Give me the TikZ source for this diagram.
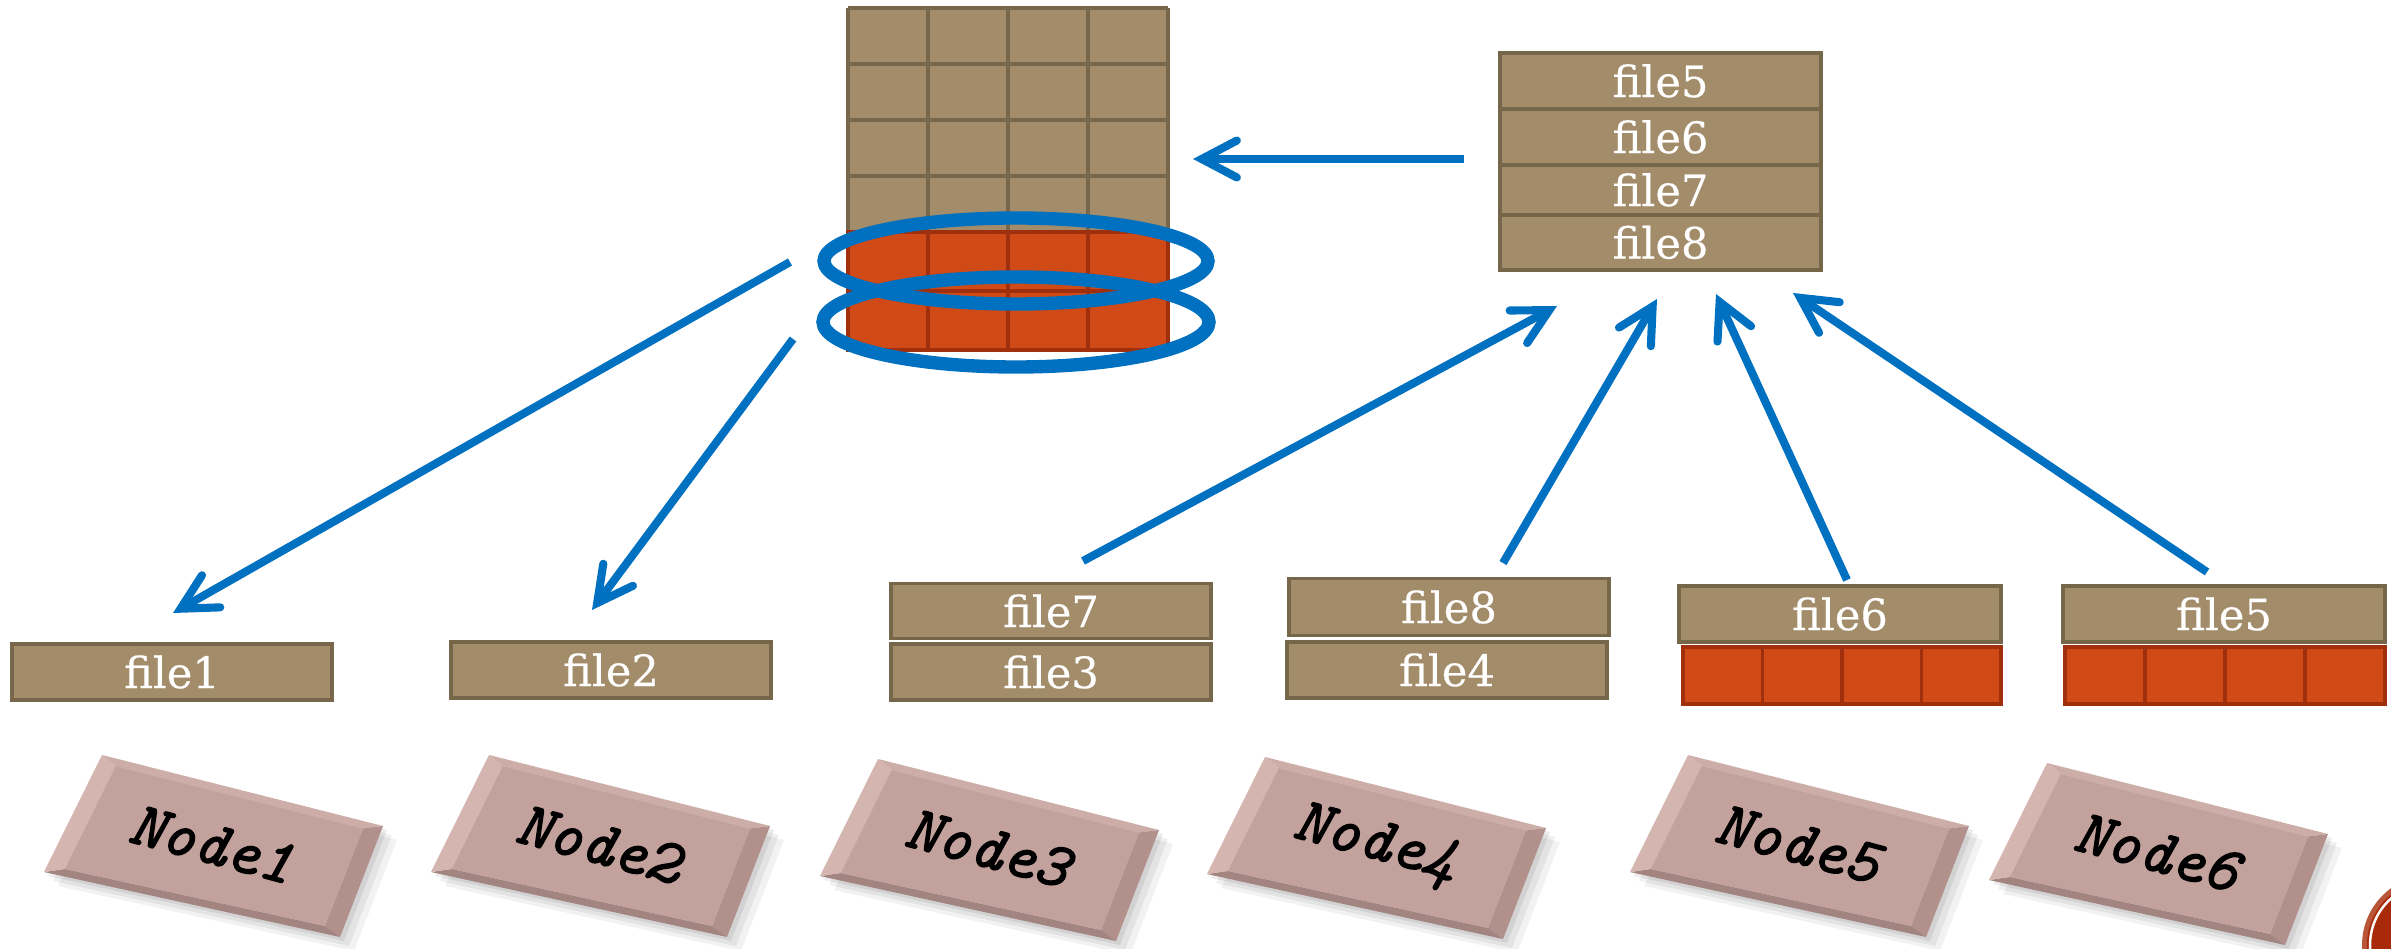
\documentclass[tikz,border=0pt]{standalone}
\usepackage{fontspec}
\setmainfont{DejaVu Serif}[FakeBold=0.35]
\newfontfamily\tilefont{Latin Modern Mono}[FakeBold=2, ItalicFeatures={FakeBold=2}]
\usetikzlibrary{arrows.meta}
\definecolor{fileFill}{HTML}{A38C6A}
\definecolor{fileBorder}{HTML}{76674A}
\definecolor{redFill}{HTML}{D04A17}
\definecolor{redBorder}{HTML}{A0300D}
\definecolor{flowBlue}{HTML}{0070C0}
\definecolor{tileFace}{HTML}{C3A29D}
\definecolor{tileTop}{HTML}{CDADA8}
\definecolor{tileLeft}{HTML}{D5B5B0}
\definecolor{tileRight}{HTML}{B2908C}
\definecolor{tileBottom}{HTML}{A28480}
\definecolor{cornerRed}{HTML}{A82A08}
\tikzset{
  filebox/.style={draw=fileBorder, fill=fileFill, line width=1.1pt, minimum width=3.2cm,
    minimum height=0.56cm, inner sep=0pt, text=white, font=\fontsize{12.3}{13}\selectfont},
  redcell/.style={draw=redBorder, fill=redFill, line width=1.1pt},
  gridline/.style={draw=fileBorder, line width=1.2pt},
  flow/.style={draw=flowBlue, line width=2.3pt,
    -{Straight Barb[length=10pt,width=10.5pt,line cap=round,line join=miter]}},
  ring/.style={draw=flowBlue, line width=3.8pt},
  tilelabel/.style={rotate=-15, inner sep=0pt, text=black,
    font=\tilefont\itshape\fontsize{18}{20}\selectfont}
}
\newcommand\drawtile[4]{%
  \begin{scope}[shift={(#1,#2)}]
    \foreach \s/\o in {14/0.05,9/0.06,4/0.07}{
      \fill[black,opacity=\o] (102+\s,755+\s) -- (383+\s,826+\s) -- (340+\s,937+\s) -- (44+\s,872+\s) -- cycle;
    }
    \fill[tileTop] (102,755) -- (383,826) -- (363,828.5) -- (115.8,766) -- cycle;
    \fill[tileRight] (383,826) -- (340,937) -- (325,926) -- (363,828.5) -- cycle;
    \fill[tileBottom] (340,937) -- (44,872) -- (64.8,869) -- (325,926) -- cycle;
    \fill[tileLeft] (44,872) -- (102,755) -- (115.8,766) -- (64.8,869) -- cycle;
    \fill[tileFace] (115.8,766) -- (363,828.5) -- (325,926) -- (64.8,869) -- cycle;
    \node[tilelabel] (#4) at (212,844) {#3};
  \end{scope}}
\begin{document}
\begin{tikzpicture}[x=0.01cm,y=-0.01cm]
\useasboundingbox (0,0) rectangle (2391,949);
\fill[white] (0,0) rectangle (2391,949);

% central grid of blocks
\fill[fileFill] (848,8) rectangle (1168,232);
\foreach \c in {0,...,4}{
  \draw[gridline] (848+80*\c,8) -- (848+80*\c,232);
}
\foreach \r in {0,...,4}{
  \draw[gridline] (848,8+56*\r) -- (1168,8+56*\r);
}
\foreach \c in {0,...,3}{
  \draw[redcell] (848+80*\c,232) rectangle (928+80*\c,291);
  \draw[redcell] (848+80*\c,291) rectangle (928+80*\c,350);
}
\draw[ring] (1016,261) ellipse [x radius=192, y radius=43];
\draw[ring] (1016,322) ellipse [x radius=193, y radius=45];

% top right stack
\node[filebox, minimum height=0.56cm, anchor=north west, minimum width=3.21cm] (s5) at (1498,51) {file5};
\node[filebox, minimum height=0.56cm, anchor=north west, minimum width=3.21cm] (s6) at (1498,107) {file6};
\node[filebox, minimum height=0.50cm, anchor=north west, minimum width=3.21cm] (s7) at (1498,163) {file7};
\node[filebox, minimum height=0.55cm, anchor=north west, minimum width=3.21cm] (s8) at (1498,213) {file8};

% bottom file boxes
\node[filebox] (f1) at (172,672) {file1};
\node[filebox] (f2) at (611,670) {file2};
\node[filebox, minimum height=0.55cm] (f7) at (1051,611) {file7};
\node[filebox] (f3) at (1051,672) {file3};
\node[filebox, minimum height=0.57cm] (f8) at (1449,607) {file8};
\node[filebox] (f4) at (1447,670) {file4};
\node[filebox, minimum width=3.21cm] (f6) at (1840,614) {file6};
\node[filebox, minimum width=3.22cm] (f5) at (2224,614) {file5};
\foreach \c in {0,...,3}{
  \draw[redcell] (1683+79.5*\c,647) rectangle (1762.5+79.5*\c,704);
  \draw[redcell] (2065+80*\c,647) rectangle (2145+80*\c,704);
}

% tiles
\drawtile{0}{0}{Node1}{n1}
\drawtile{387}{0}{Node2}{n2}
\drawtile{776}{4}{Node3}{n3}
\drawtile{1163}{2}{Node4}{n4}
\drawtile{1586}{0}{Node5}{n5}
\drawtile{1945}{8}{Node6}{n6}

% corner badge
\fill[cornerRed!80!white] (2432,945) circle[radius=70];
\fill[cornerRed] (2432,945) circle[radius=65];
\draw[white, line width=0.7pt] (2432,945) circle[radius=62];

% connectors
\coordinate (a1s) at (790,262);  \coordinate (a1e) at (173,613);
\coordinate (a2s) at (793,339);  \coordinate (a2e) at (592,610);
\coordinate (a3s) at (1083,561); \coordinate (a3e) at (1557,306);
\coordinate (a4s) at (1503,563); \coordinate (a4e) at (1657,299);
\coordinate (a5s) at (1847,580); \coordinate (a5e) at (1716,294);
\coordinate (a6s) at (2207,572); \coordinate (a6e) at (1793,293);
\coordinate (a7s) at (1464,159); \coordinate (a7e) at (1193,159);
\draw[flow] (a1s) -- (a1e);
\draw[flow] (a2s) -- (a2e);
\draw[flow] (a3s) -- (a3e);
\draw[flow] (a4s) -- (a4e);
\draw[flow] (a5s) -- (a5e);
\draw[flow] (a6s) -- (a6e);
\draw[flow] (a7s) -- (a7e);
\end{tikzpicture}
\end{document}
